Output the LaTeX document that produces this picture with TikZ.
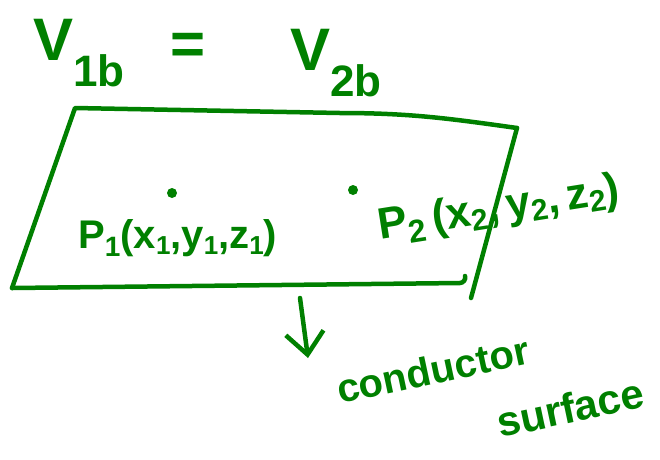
\documentclass[tikz,border=0pt]{standalone}
\usepackage{fontspec}
\setmainfont{Liberation Sans}
\usetikzlibrary{arrows.meta}
\definecolor{ink}{RGB}{0,128,0}
\newcommand{\lowsub}[2]{\raisebox{-#1}{#2}}
\begin{document}
\begin{tikzpicture}[x=1pt,y=-1pt,
  edge/.style={draw=ink, line width=4.5pt, line cap=round, line join=round},
  lbl/.style={text=ink, inner sep=0pt, anchor=base west, font=\bfseries}]
\useasboundingbox (0,0) rectangle (660,459);
% heading
\node[lbl] (v1) at (33,60) {\fontsize{60}{60}\selectfont V\lowsub{26pt}{\fontsize{44}{44}\selectfont 1b}};
\node[lbl] (eq) at (170,64) {\fontsize{60}{60}\selectfont =};
\node[lbl] (v2) at (290,70) {\fontsize{60}{60}\selectfont V\lowsub{26pt}{\fontsize{44}{44}\selectfont 2b}};
% conductor surface (parallelogram)
\coordinate (tl) at (75,108);
\coordinate (tm) at (340,113);
\coordinate (tr) at (517,128);
\coordinate (rb) at (471,298);
\coordinate (bl) at (12,288);
\coordinate (br) at (460,283);
\coordinate (bh) at (465,276);
\draw[edge] (bl) -- (tl) -- (tm) to[out=0,in=172] (tr);
\draw[edge] (tr) -- (rb);
\draw[edge] (bl) -- (br) to[out=0,in=-70] (bh);
% points
\coordinate (d1) at (172,193);
\coordinate (d2) at (353,190);
\fill[ink] (d1) circle[radius=5pt];
\fill[ink] (d2) circle[radius=5pt];
\node[lbl] (p1) at (78,248) {\fontsize{40}{40}\selectfont P\lowsub{8pt}{\fontsize{28}{28}\selectfont 1}(x\lowsub{6pt}{\fontsize{26}{26}\selectfont 1},y\lowsub{6pt}{\fontsize{26}{26}\selectfont 1},z\lowsub{6pt}{\fontsize{26}{26}\selectfont 1})};
\node[lbl, rotate=9] (p2) at (380,240) {\fontsize{44}{44}\selectfont P\lowsub{8pt}{\fontsize{32}{32}\selectfont 2}\,(x\lowsub{6pt}{\fontsize{30}{30}\selectfont 2},\,y\lowsub{6pt}{\fontsize{30}{30}\selectfont 2},\,z\lowsub{6pt}{\fontsize{30}{30}\selectfont 2})};
% label
\node[lbl, rotate=12] (cond) at (340,404) {\fontsize{40}{40}\selectfont conductor};
\node[lbl, rotate=12] (surf) at (500,438) {\fontsize{42}{42}\selectfont surface};
\coordinate (arrtop) at (300,298);
\coordinate (arrtip) at (308,358);
\draw[edge, -{Straight Barb[length=22pt, width=38pt, line width=4.5pt]}] (arrtop) -- (arrtip);
\end{tikzpicture}
\end{document}
